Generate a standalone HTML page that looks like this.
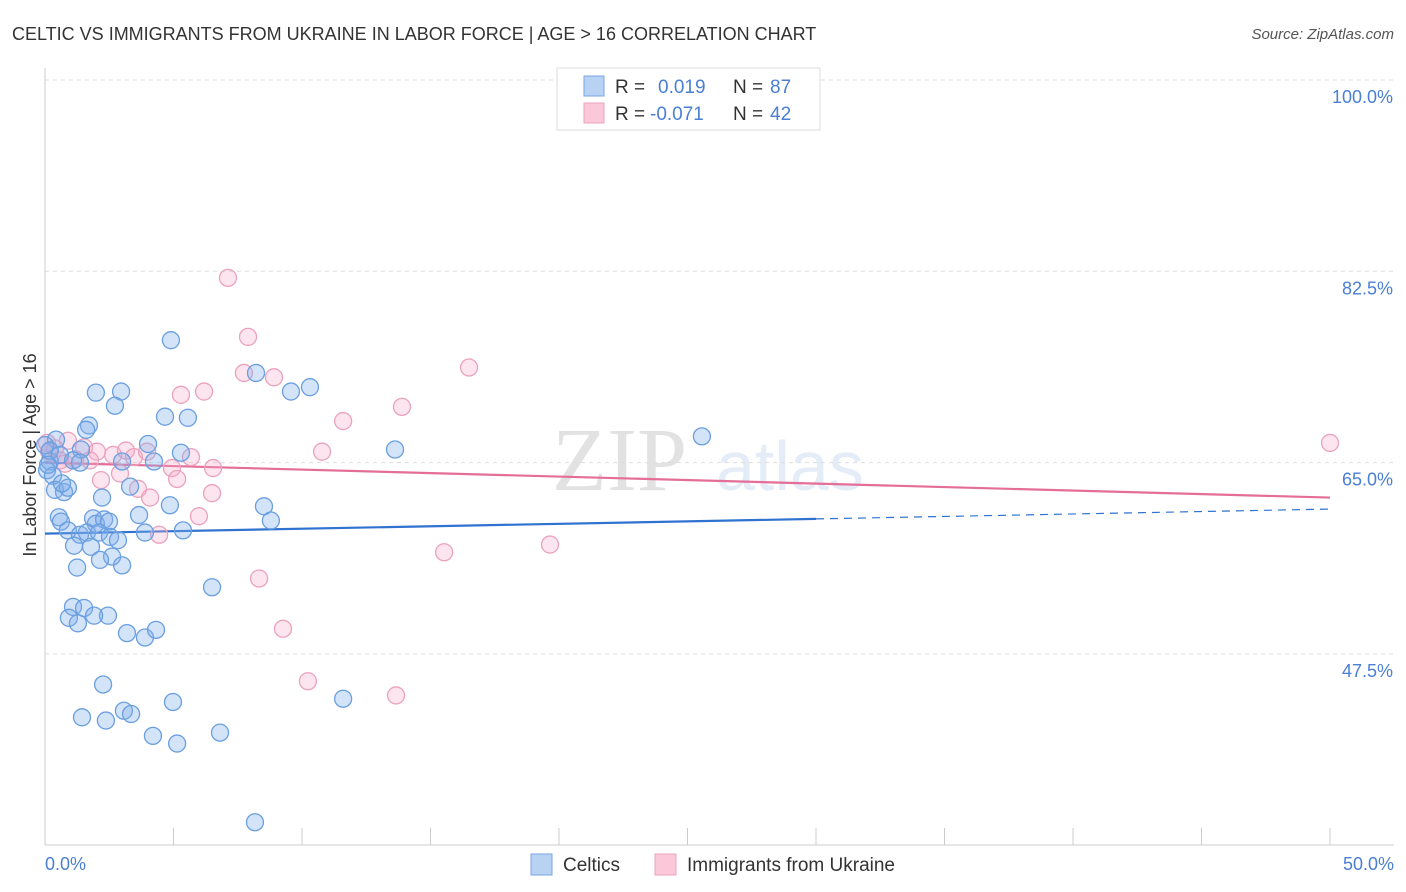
<!DOCTYPE html>
<html><head><meta charset="utf-8"><style>
body{margin:0;background:#fff;font-family:"Liberation Sans",sans-serif;}
svg{display:block}
</style></head><body>
<svg width="1406" height="892" viewBox="0 0 1406 892">
<text x="12" y="40" font-size="18" fill="#333">CELTIC VS IMMIGRANTS FROM UKRAINE IN LABOR FORCE | AGE &gt; 16 CORRELATION CHART</text>
<text x="1394" y="39" font-size="15" fill="#555" font-style="italic" text-anchor="end">Source: ZipAtlas.com</text>
<g opacity="0.18">
<text x="552" y="490" font-size="90" font-family="Liberation Serif,serif" fill="#666">ZIP</text>
<text x="716" y="490" font-size="70" fill="#6f9fd8">atlas</text>
</g>
<g id="grid"></g>
<g id="axes"></g>
<g id="trends"></g>
<g id="pts"></g>
<text x="36" y="455" font-size="18" fill="#333" text-anchor="middle" transform="rotate(-90 36 455)">In Labor Force | Age &gt; 16</text>
<text x="45" y="870" font-size="18" fill="#4a7fd4">0.0%</text>
<text x="1394" y="870" font-size="18" fill="#4a7fd4" text-anchor="end">50.0%</text>
<g>
<rect x="557" y="68" width="263" height="62" fill="#fff" stroke="#ddd"/>
<rect x="584" y="76" width="20" height="20" fill="#b8d2f4" stroke="#7aa6e6"/>
<rect x="584" y="103" width="20" height="20" fill="#fac8d8" stroke="#eba2bd"/>
<text x="615" y="93" font-size="19" fill="#333">R = </text><text x="658" y="93" font-size="19" fill="#4a7fd4">0.019</text>
<text x="733" y="93" font-size="19" fill="#333">N = </text><text x="770" y="93" font-size="19" fill="#4a7fd4">87</text>
<text x="615" y="120" font-size="19" fill="#333">R = </text><text x="650" y="120" font-size="19" fill="#4a7fd4">-0.071</text>
<text x="733" y="120" font-size="19" fill="#333">N = </text><text x="770" y="120" font-size="19" fill="#4a7fd4">42</text>
</g>
<g>
<rect x="531" y="854" width="21" height="21" fill="#b8d2f4" stroke="#7aa6e6"/>
<text x="563" y="871" font-size="19" fill="#333">Celtics</text>
<rect x="655" y="854" width="21" height="21" fill="#fac8d8" stroke="#eba2bd"/>
<text x="687" y="871" font-size="19" fill="#333">Immigrants from Ukraine</text>
</g>
</svg>
<script>
const yTicks=[100,82.5,65,47.5];
const yTickLabels=["100.0%","82.5%","65.0%","47.5%"];
const xTicks=[0,5,10,15,20,25,30,35,40,45,50];
const blueX=[4.90,1.98,2.96,2.72,8.21,9.57,10.31,4.67,5.56,1.71,1.60,4.01,5.29,4.24,3.00,1.40,13.62,25.56,0.19,0.08,0.31,0.39,0.74,0.89,0.66,2.22,3.31,4.86,8.52,8.79,3.66,0.54,0.62,1.87,1.98,2.30,2.49,0.89,1.36,1.63,2.10,2.53,2.84,3.89,5.37,1.13,1.79,2.61,2.14,3.00,1.25,1.09,1.52,2.45,1.91,0.93,1.28,3.19,3.89,4.32,6.50,2.26,1.44,2.37,3.07,3.35,4.98,4.20,5.14,6.81,11.60,8.17,0.43,0.0,0.19,0.58,1.09,1.36,0.12];
const blueY=[76.2,71.4,71.5,70.2,73.2,71.5,71.9,69.2,69.1,68.4,68.0,66.7,65.9,65.1,65.1,66.2,66.2,67.4,65.1,64.3,63.8,62.5,62.3,62.7,63.1,61.8,62.8,61.1,61.0,59.7,60.2,60.0,59.6,59.9,59.4,59.8,59.6,58.8,58.4,58.6,58.6,58.2,57.9,58.6,58.8,57.4,57.3,56.4,56.1,55.6,55.4,51.8,51.7,51.0,51.0,50.8,50.3,49.4,49.0,49.7,53.6,44.7,41.7,41.4,42.3,42.0,43.1,40.0,39.3,40.3,43.4,32.1,67.1,66.6,66.1,65.7,65.2,65.0,64.8];
const pinkX=[7.12,7.90,7.74,8.91,16.50,13.89,5.29,6.19,11.60,10.78,50.0,0.08,0.39,0.89,1.52,2.02,2.65,3.15,3.46,3.97,5.68,4.94,6.54,2.18,2.92,5.14,3.62,4.09,6.50,5.99,4.44,15.53,19.65,8.33,9.26,10.23,13.66,0.16,0.58,0.78,1.17,1.75];
const pinkY=[81.9,76.5,73.2,72.8,73.7,70.1,71.2,71.5,68.8,66.0,66.8,66.8,66.3,67.0,66.4,66.0,65.7,66.1,65.5,66.0,65.5,64.5,64.5,63.4,64.0,63.5,62.6,61.8,62.2,60.1,58.4,56.8,57.5,54.4,49.8,45.0,43.7,66.0,65.2,64.9,65.3,65.2];
const blueTrend=[58.5,60.75];
const pinkTrend=[65.0,61.8];
const NS="http://www.w3.org/2000/svg";
const X=v=>45+v/50*1285;
const Y=v=>80+(100-v)*(191.3/17.5);
function mk(t,a,p){const e=document.createElementNS(NS,t);for(const k in a)e.setAttribute(k,a[k]);p.appendChild(e);return e;}
const grid=document.getElementById('grid'),axes=document.getElementById('axes');
yTicks.forEach((v,i)=>{
 const l=mk('line',{x1:45,x2:1394,y1:Y(v),y2:Y(v),stroke:'#ddd','stroke-dasharray':'4 4'},grid);
 
 
 const t=mk('text',{x:1393,y:Y(v)+23,'font-size':18,fill:'#4a7fd4','text-anchor':'end'},grid);
 t.textContent=yTickLabels[i];
 
 
});
const ax=mk('line',{x1:45,x2:45,y1:68,y2:845,stroke:'#ccc'},axes);


const bx=mk('line',{x1:45,x2:1394,y1:845,y2:845,stroke:'#ccc'},axes);


xTicks.forEach(v=>{
 const t=mk('line',{x1:X(v),x2:X(v),y1:828,y2:845,stroke:'#ccc'},axes);
 
 
});
const pts=document.getElementById('pts');
pinkX.forEach((x,i)=>{
 const c=mk('circle',{cx:X(x),cy:Y(pinkY[i]),r:8.5,fill:'rgba(246,170,198,0.3)',stroke:'#eba2bd','stroke-width':1.3},pts);
 
 
});
blueX.forEach((x,i)=>{
 const c=mk('circle',{cx:X(x),cy:Y(blueY[i]),r:8.5,fill:'rgba(130,175,235,0.35)',stroke:'#6a9fe0','stroke-width':1.3},pts);
 
 
});
const tr=document.getElementById('trends');
const bAt=x=>blueTrend[0]+(blueTrend[1]-blueTrend[0])*x/50;
const b1=mk('line',{x1:X(0),y1:Y(bAt(0)),x2:X(30),y2:Y(bAt(30)),stroke:'#2f72d0','stroke-width':2.2},tr);


const b2=mk('line',{x1:X(30),y1:Y(bAt(30)),x2:X(50),y2:Y(bAt(50)),stroke:'#2f72d0','stroke-width':1.2,'stroke-dasharray':'8 6'},tr);


const p1=mk('line',{x1:X(0),y1:Y(pinkTrend[0]),x2:X(50),y2:Y(pinkTrend[1]),stroke:'#e46e97','stroke-width':2.2},tr);


</script>
</body></html>
